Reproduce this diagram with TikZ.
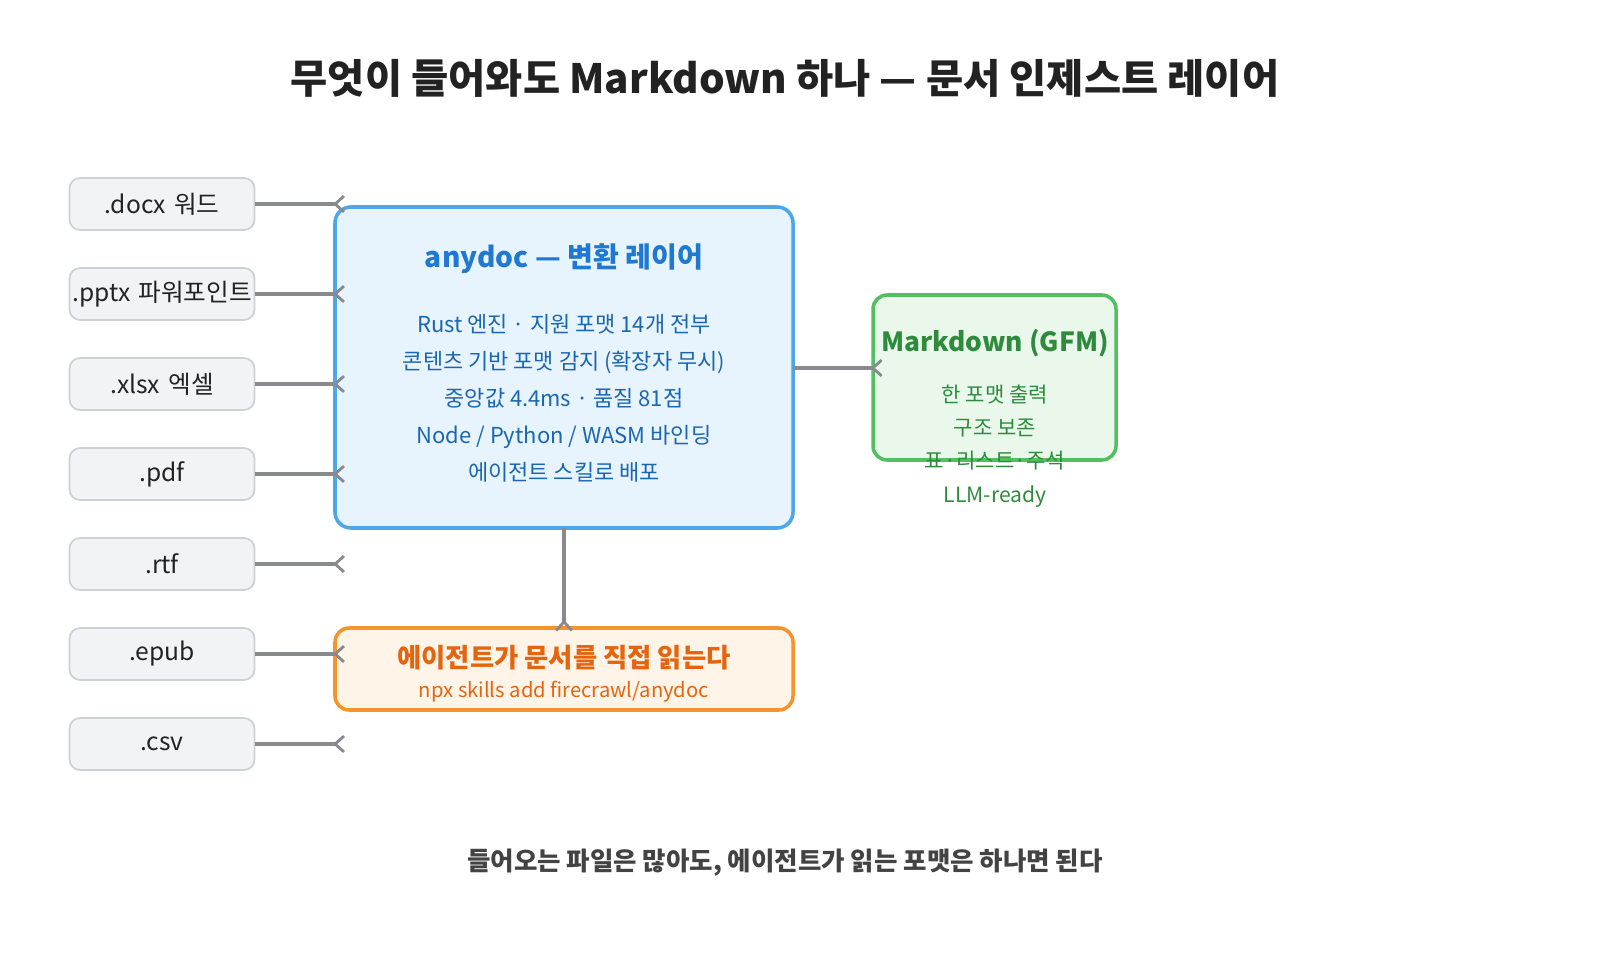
\documentclass[tikz,border=0pt]{standalone}
\usepackage{fontspec}
\setmainfont{Noto Sans CJK KR}
\usetikzlibrary{arrows.meta,positioning}
\definecolor{inkgray}{HTML}{222222}
\definecolor{srcfill}{HTML}{F1F3F5}
\definecolor{srcline}{HTML}{CDD1D5}
\definecolor{wire}{HTML}{888A8E}
\definecolor{bluefill}{HTML}{E8F4FD}
\definecolor{blueline}{HTML}{4BA6EA}
\definecolor{bluetext}{HTML}{1F78D1}
\definecolor{greenfill}{HTML}{EAF8EB}
\definecolor{greenline}{HTML}{52C05E}
\definecolor{greentext}{HTML}{2E8B3C}
\definecolor{orangefill}{HTML}{FFF4E8}
\definecolor{orangeline}{HTML}{F5932D}
\definecolor{orangetext}{HTML}{E5650F}
\tikzset{
  src/.style={draw=srcline, fill=srcfill, rounded corners=6pt, line width=1pt, inner xsep=0pt,
    text width=3.7cm, align=center, minimum height=1.04cm, font=\fontsize{14}{17}\selectfont, text=inkgray},
  wire/.style={draw=wire, line width=2.4pt, -{Straight Barb[reversed,length=5pt,width=9pt,line width=1.6pt]}},
}
\begin{document}
\begin{tikzpicture}[x=0.02cm,y=-0.02cm]
  \useasboundingbox (0,0) rectangle (1600,980);

  % TITLE
  \node[text=inkgray, font=\fontsize{23}{28}\selectfont\bfseries] (title) at (785,78) {무엇이 들어와도 Markdown 하나 — 문서 인제스트 레이어};

  % SOURCE FORMATS
  \node[src] (docx) at (162,204) {.docx 워드};
  \node[src] (pptx) at (162,294) {.pptx 파워포인트};
  \node[src] (xlsx) at (162,384) {.xlsx 엑셀};
  \node[src] (pdf)  at (162,474) {.pdf};
  \node[src] (rtf)  at (162,564) {.rtf};
  \node[src] (epub) at (162,654) {.epub};
  \node[src] (csv)  at (162,744) {.csv};

  % MAIN LAYER
  \draw[draw=blueline, fill=bluefill, line width=2pt, rounded corners=9pt] (335,207) rectangle (793,528);
  \node[text=bluetext, font=\fontsize{16}{19}\selectfont\bfseries] (coretitle) at (564,259) {anydoc — 변환 레이어};
  \node[text=bluetext!85!black, font=\fontsize{12.5}{15}\selectfont, align=center] (corebody) at (564,398)
    {Rust 엔진 · 지원 포맷 14개 전부\\[6pt]콘텐츠 기반 포맷 감지 (확장자 무시)\\[6pt]중앙값 4.4ms · 품질 81점\\[6pt]Node / Python / WASM 바인딩\\[6pt]에이전트 스킬로 배포};

  % OUTPUT
  \draw[draw=greenline, fill=greenfill, line width=2pt, rounded corners=8pt] (873,295) rectangle (1116,460);
  \node[text=greentext, font=\fontsize{15}{18}\selectfont\bfseries] (mdtitle) at (995,343) {Markdown (GFM)};
  \node[text=greentext, font=\fontsize{12}{14}\selectfont, align=center] (mdbody) at (995,446)
    {한 포맷 출력\\[5pt]구조 보존\\[5pt]표·리스트·주석\\[5pt]LLM-ready};

  % AGENT
  \draw[draw=orangeline, fill=orangefill, line width=2pt, rounded corners=8pt] (335,628) rectangle (793,710);
  \node[text=orangetext, font=\fontsize{15}{18}\selectfont\bfseries] (agent) at (564,658) {에이전트가 문서를 직접 읽는다};
  \node[text=orangetext, font=\fontsize{11.5}{14}\selectfont] (cmd) at (564,692) {npx skills add firecrawl/anydoc};

  % CONNECTORS
  \foreach \f in {docx,pptx,xlsx,pdf,rtf,epub,csv}
    \draw[wire] (\f.east) -- ++(90,0);
  \draw[wire] (793,368) -- (883,368);
  \draw[wire] (564,528) -- (564,632);

  % FOOTER
  \node[text=inkgray!85, font=\fontsize{14.5}{17}\selectfont\bfseries] (footer) at (785,863) {들어오는 파일은 많아도, 에이전트가 읽는 포맷은 하나면 된다};
\end{tikzpicture}
\end{document}
